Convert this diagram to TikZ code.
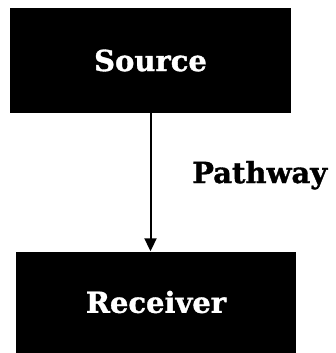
\documentclass[tikz,border=0pt]{standalone}
\usepackage{fontspec}
\setmainfont{DejaVu Serif}[BoldFeatures={FakeBold=1.2}]
\usetikzlibrary{arrows.meta}

\tikzset{
	blockbox/.style={draw=none, fill=black, text=white, font=\fontsize{29}{34}\selectfont\bfseries, inner sep=0pt},
	flowarrow/.style={line width=2pt, -{Triangle[length=13pt, width=12pt]}},
	pathlabel/.style={font=\fontsize{29}{34}\selectfont\bfseries, anchor=base west, inner sep=0pt}
}

\begin{document}
\begin{tikzpicture}[x=1pt, y=-1pt]
		%%%%% START %%%%%
		
		\useasboundingbox (0, 0) rectangle (336, 353);
		
		\node[blockbox, minimum width=281pt, minimum height=105pt] (source) at (150.5, 60.5) {Source};
		\node[blockbox, minimum width=280pt, minimum height=101pt] (receiver) at (156, 302) {Receiver};
		
		\draw[flowarrow] (source.south) -- (source.south |- receiver.north);
		
		\node[pathlabel] (pathway) at (192, 183) {Pathway};
		
		%%%%% END %%%%%
	\end{tikzpicture}
\end{document}
